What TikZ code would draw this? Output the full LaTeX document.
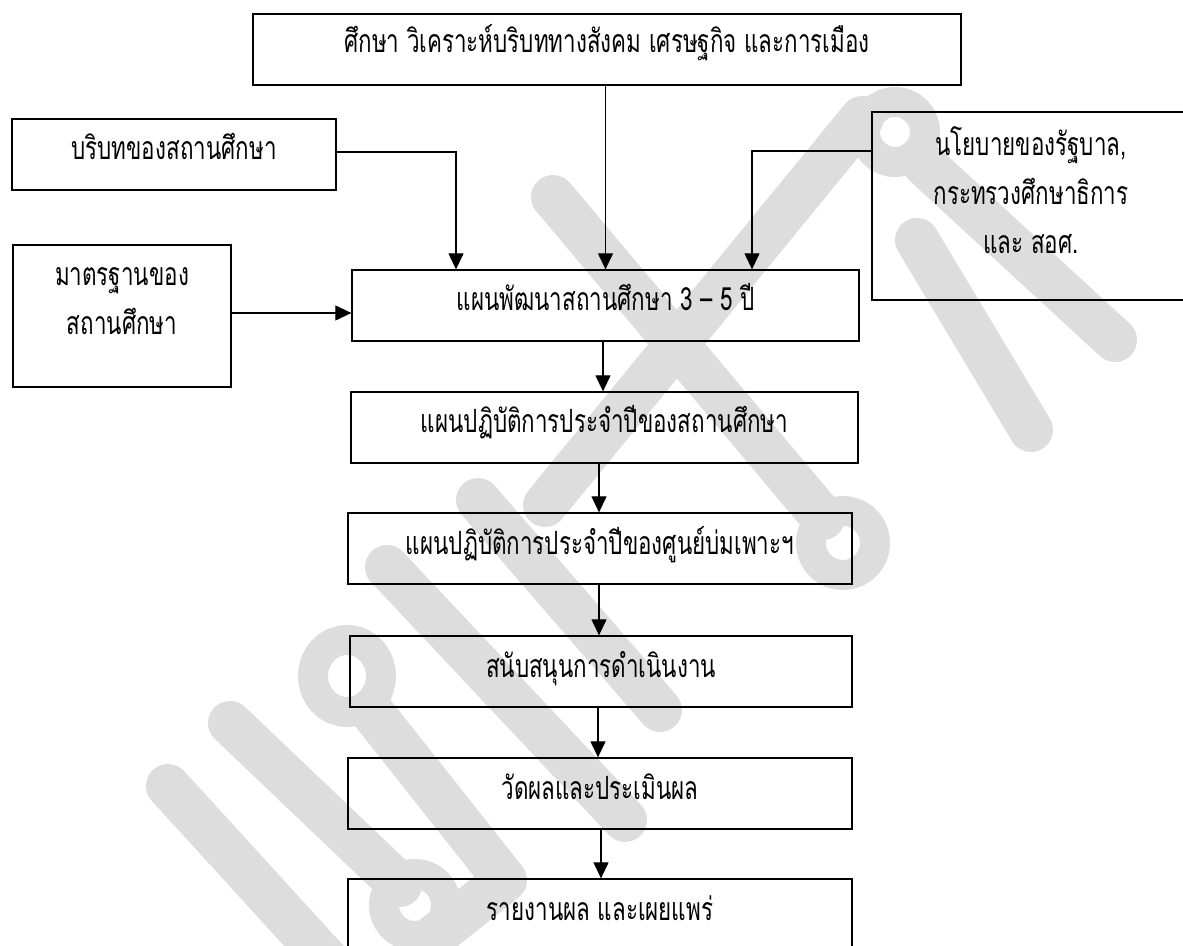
\documentclass[tikz,border=0pt]{standalone}
\usepackage{fontspec}
\newfontfamily\thai[Script=Thai,FakeStretch=0.7]{Loma}
\usetikzlibrary{arrows.meta}
\definecolor{wmgray}{RGB}{221,221,221}
\begin{document}
\begin{tikzpicture}[x=0.5pt,y=-0.5pt,
  box/.style={draw, line width=0.65pt, inner sep=0pt, align=center,
    font=\thai\fontsize{16}{24.5}\selectfont},
  one/.style={text height=10.5pt, text depth=5pt},
  arr/.style={-{Triangle[length=8pt,width=7.5pt]}, line width=0.6pt},
  wm/.style={draw=wmgray, line cap=round, line join=round, line width=22pt},
  wmring/.style={draw=wmgray, line width=15pt}]
\useasboundingbox (0,0) rectangle (1183,946);
\clip (0,0) rectangle (1183,946);
% light grey watermark (behind everything)
\draw[wm] (168,786) -- (345,980);
\draw[wm] (230,723) -- (400,885);
\draw[wmring] (415,905) circle [radius=15.5pt];
\draw[wmring] (347,676) ellipse [x radius=17pt, y radius=18pt];
\draw[wm] (372,712) -- (505,880) -- (430,940);
\draw[wm] (387,567) -- (625,820);
\draw[wm] (478,500) -- (660,710);
\draw[wm] (553,197) -- (823,518);
\draw[wmring] (843,543) circle [radius=16pt];
\draw[wm] (862,118) -- (545,505);
\draw[wmring] (895,132) circle [radius=15pt];
\draw[wm] (925,165) -- (1115,340);
\draw[wm] (917,240) -- (1031,430);
% boxes
\node[box, text height=9.5pt, text depth=6pt, minimum width=354pt, minimum height=35.5pt] (T) at (607,49.5) {ศึกษา วิเคราะห์บริบททางสังคม เศรษฐกิจ และการเมือง};
\node[box, one, minimum width=162pt, minimum height=35.5pt] (B1) at (174,154.5) {บริบทของสถานศึกษา};
\node[box, minimum width=109pt, minimum height=71pt] (B2) at (122,316) {\raisebox{3.4pt}[0pt][0pt]{\begin{tabular}{@{}c@{}}มาตรฐานของ\\สถานศึกษา\end{tabular}}};
\node[box, minimum width=159pt, minimum height=94pt] (R) at (1031,206) {\raisebox{1.4pt}[0pt][0pt]{\begin{tabular}{@{}c@{}}นโยบายของรัฐบาล,\\กระทรวงศึกษาธิการ\\และ สอศ.\end{tabular}}};
\node[box, one, minimum width=253.5pt, minimum height=35.5pt] (M) at (605.5,305.5) {แผนพัฒนาสถานศึกษา 3 – 5 ปี};
\node[box, one, minimum width=253.5pt, minimum height=35.5pt] (P1) at (604.5,427.5) {แผนปฏิบัติการประจำปีของสถานศึกษา};
\node[box, one, minimum width=252pt, minimum height=35.5pt] (P2) at (600,548.5) {แผนปฏิบัติการประจำปีของศูนย์บ่มเพาะฯ};
\node[box, one, minimum width=251pt, minimum height=35.5pt] (S) at (601,671.5) {สนับสนุนการดำเนินงาน};
\node[box, one, minimum width=252pt, minimum height=35.5pt] (E) at (600,793.5) {วัดผลและประเมินผล};
\node[box, one, minimum width=252pt, minimum height=35.5pt] (Rp) at (600,914.5) {รายงานผล และเผยแพร่};
% connectors
\draw[arr] (T.south -| M.north) -- (M.north);
\draw[arr] ([yshift=1.25pt]B1.east) -| ([xshift=-74.75pt]M.north);
\draw[arr] ([yshift=27.5pt]R.west) -| ([xshift=73.25pt]M.north);
\draw[arr] ([yshift=1.5pt]B2.east) -- ([yshift=-3.75pt]M.west);
\draw[arr] ([xshift=-1.25pt]M.south) -- ([xshift=-0.75pt]P1.north);
\draw[arr] ([xshift=-2.75pt]P1.south) -- ([xshift=-0.5pt]P2.north);
\draw[arr] ([xshift=-0.5pt]P2.south) -- ([xshift=-1pt]S.north);
\draw[arr] ([xshift=-1.5pt]S.south) -- ([xshift=-1pt]E.north);
\draw[arr] ([xshift=0.5pt]E.south) -- ([xshift=0.5pt]Rp.north);
\end{tikzpicture}
\end{document}
